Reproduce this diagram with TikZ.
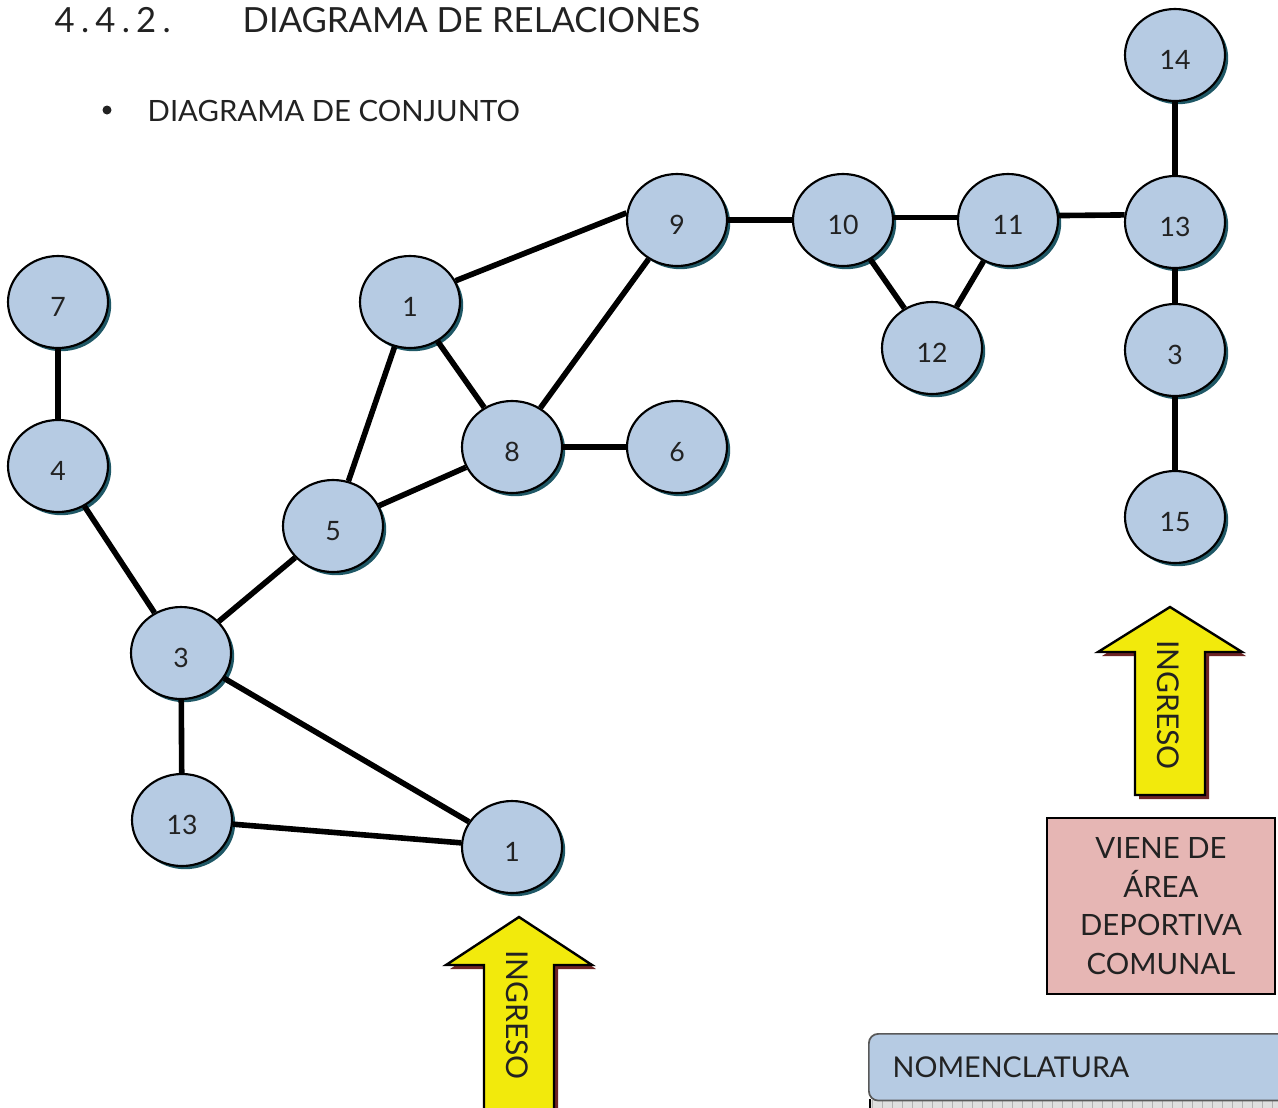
\documentclass[tikz,border=0pt]{standalone}
\usepackage{fontspec}
\setmainfont{Lato}
\usetikzlibrary{shapes.geometric}
\definecolor{nodefill}{HTML}{B6CBE3}
\definecolor{nodeshadow}{HTML}{1F5866}
\definecolor{arrowfill}{HTML}{F2EA0C}
\definecolor{arrowshadow}{HTML}{6E2424}
\definecolor{pinkfill}{HTML}{E6B6B4}
\definecolor{inkcol}{HTML}{222222}
\begin{document}
\begin{tikzpicture}[x=0.75pt,y=-0.75pt,
  place/.style={ellipse,draw=black,line width=1.6pt,fill=nodefill,
    minimum width=75pt,minimum height=69pt,inner sep=0pt,
    font=\fontsize{20}{20}\selectfont,text=inkcol,
    preaction={fill=nodeshadow,transform canvas={xshift=2.4pt,yshift=-2.4pt}}},
  label/.style={font=\fontsize{20}{20}\selectfont,text=inkcol,yshift=-4pt},
  link/.style={line width=4.2pt,black},
  arrowbody/.style={fill=arrowfill,draw=black,line width=1.8pt,line join=miter},
  arrowshade/.style={fill=arrowshadow},
  arrowtext/.style={rotate=-90,font=\fontsize{22.5}{22.5}\selectfont,text=inkcol},
  headtext/.style={font=\fontsize{26}{26}\selectfont,text=inkcol,anchor=base west},
  subtext/.style={font=\fontsize{22}{22}\selectfont,text=inkcol,anchor=base west}]
\useasboundingbox (0,0) rectangle (1278,1107);
\clip (0,0) rectangle (1278,1107);

% headings
\node[headtext] (num) at (50,32) {\addfontfeature{LetterSpace=18}4.4.2.};
\node[headtext] (title) at (238,32) {DIAGRAMA DE RELACIONES};
\fill[inkcol] (107,110) circle (4.5);
\node[subtext] (sub) at (143,121) {DIAGRAMA DE CONJUNTO};

% places
\node[place] (n14)  at (1175,55)  {};
\node[place] (n13r) at (1175,222) {};
\node[place] (n3r)  at (1175,350) {};
\node[place] (n15)  at (1175,517) {};
\node[place] (n9)   at (677,220)  {};
\node[place] (n10)  at (843,220)  {};
\node[place] (n11)  at (1008,220) {};
\node[place] (n12)  at (932,348)  {};
\node[place] (n1t)  at (410,302)  {};
\node[place] (n8)   at (512,447)  {};
\node[place] (n6)   at (677,447)  {};
\node[place] (n7)   at (58,302)   {};
\node[place] (n4)   at (58,466)   {};
\node[place] (n5)   at (333,526)  {};
\node[place] (n3l)  at (181,653)  {};
\node[place] (n13l) at (182,820)  {};
\node[place] (n1b)  at (512,847)  {};

% numbers of the places
\foreach \n/\t in {n14/14,n13r/13,n3r/3,n15/15,n9/9,n10/10,n11/11,n12/12,n1t/1,
                   n8/8,n6/6,n7/7,n4/4,n5/5,n3l/3,n13l/13,n1b/1}
  \node[label] (\n-t) at (\n) {\t};

% relations
\draw[link] (n7) -- (n4);
\draw[link] (n4) -- (n3l);
\draw[link] (n3l) -- (n5);
\draw[link] (n5) -- (n1t);
\draw[link] (n5) -- (n8);
\draw[link] (n1t) -- (n8);
\draw[link] (n1t.25) -- (n9.172);
\draw[link] (n8) -- (n9);
\draw[link] (n8) -- (n6);
\draw[link] (n9) -- (n10);
\draw[link] (n10.3) -- (n11.177);
\draw[link] (n10) -- (n12);
\draw[link] (n11) -- (n12);
\draw[link] (n11.5) -- (n13r.172);
\draw[link] (n14) -- (n13r);
\draw[link] (n13r) -- (n3r);
\draw[link] (n3r) -- (n15);
\draw[link] (n3l) -- (n13l);
\draw[link] (n3l) -- (n1b);
\draw[link] (n13l) -- (n1b);

% entrance arrow, right
\fill[arrowshade] (1174,611) -- (1246,656) -- (1209,656) -- (1209,799) -- (1139,799) -- (1139,656) -- (1102,656) -- cycle;
\draw[arrowbody] (1170,607) -- (1242,652) -- (1205,652) -- (1205,795) -- (1135,795) -- (1135,652) -- (1098,652) -- cycle;
\node[arrowtext] (ing1) at (1168,705) {INGRESO};

% entrance arrow, bottom
\fill[arrowshade] (523,921) -- (596,969) -- (558,969) -- (558,1120) -- (488,1120) -- (488,969) -- (450,969) -- cycle;
\draw[arrowbody] (519,917) -- (592,965) -- (554,965) -- (554,1116) -- (484,1116) -- (484,965) -- (446,965) -- cycle;
\node[arrowtext] (ing2) at (517,1015) {INGRESO};

% origin box
\node[draw=black,line width=1.6pt,fill=pinkfill,minimum width=171pt,minimum height=132pt,
  align=center,font=\fontsize{22}{29}\selectfont,text=inkcol,inner sep=0pt] (origen) at (1161,906)
  {VIENE DE\\ÁREA\\DEPORTIVA\\COMUNAL};

% legend header
\fill[gray!25] (870,1100) rectangle (1290,1110);
\foreach \i in {0,...,42} {\draw[gray!60,line width=0.4pt] ({872+10*\i},1100) -- ({872+10*\i},1110);}
\draw[black,line width=1.2pt] (870,1099) -- (870,1110);
\node[draw=gray!70!black,line width=1.3pt,rounded corners=7pt,fill=nodefill,
  minimum width=318pt,minimum height=50pt,anchor=north west,inner sep=0pt] (nom) at (868,1033) {};
\node[font=\fontsize{21.5}{21.5}\selectfont,text=inkcol,anchor=west] (nomtxt) at (888,1067) {NOMENCLATURA};
\end{tikzpicture}
\end{document}
